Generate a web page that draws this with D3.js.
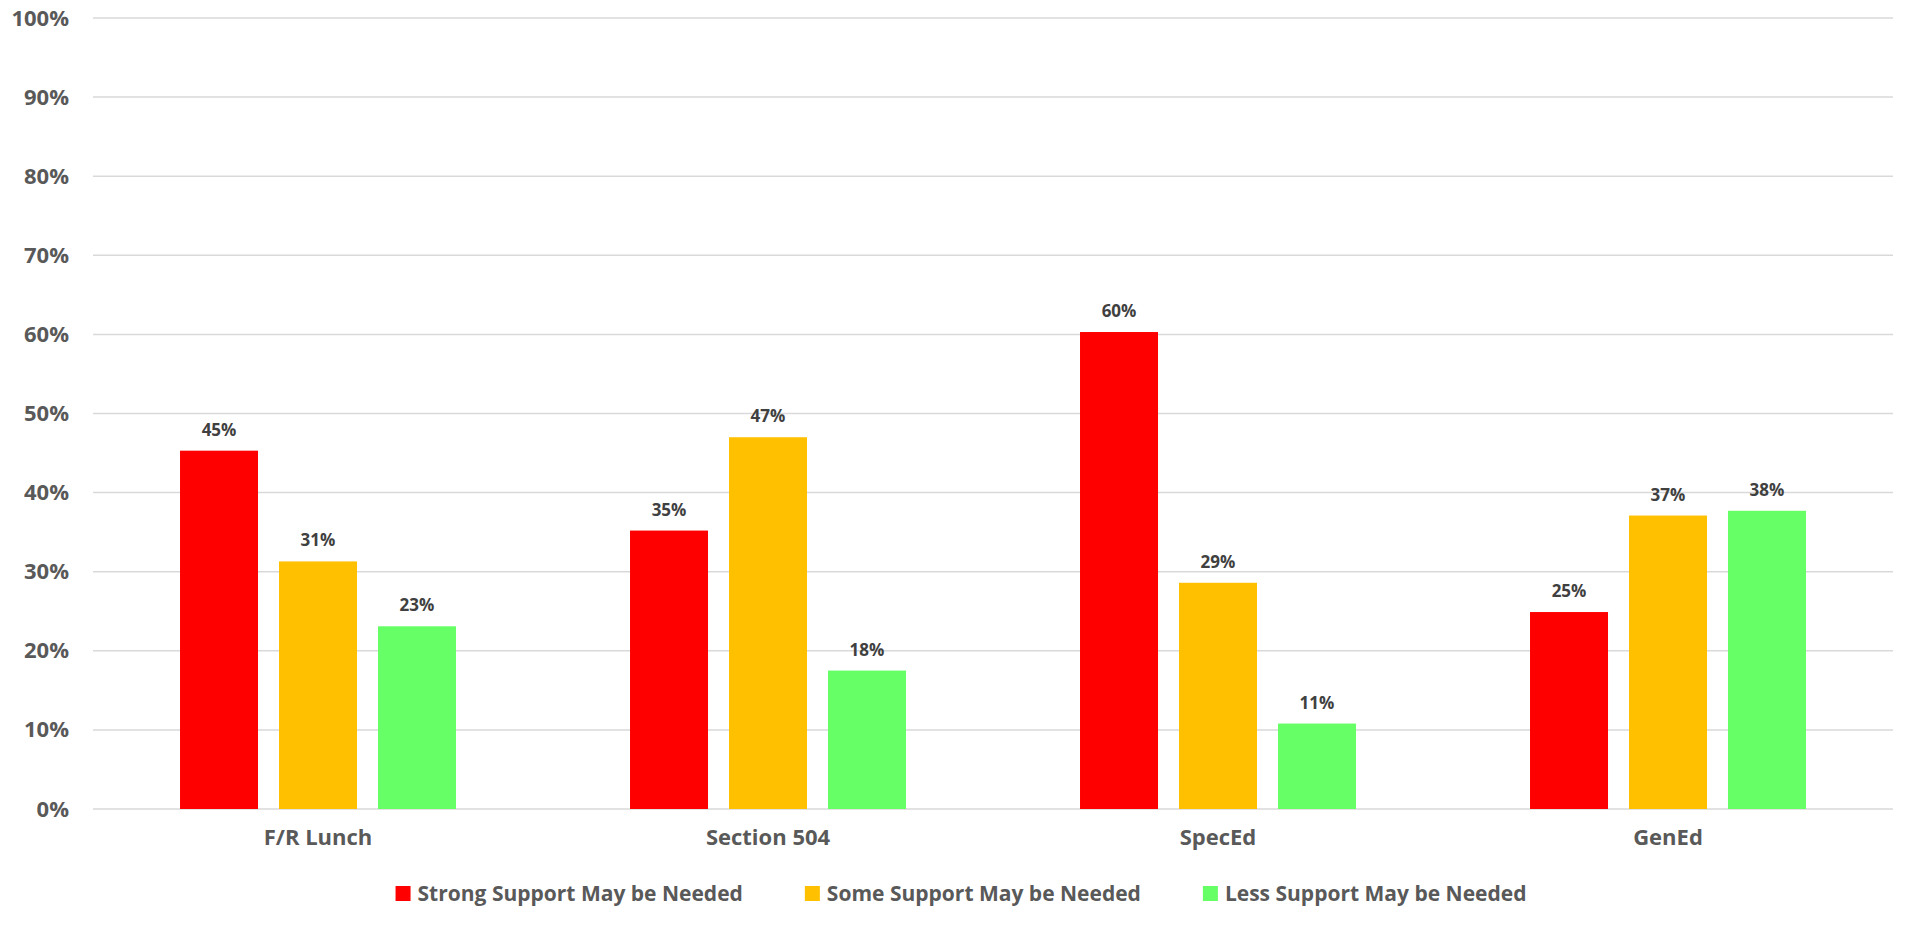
<!DOCTYPE html>
<html>
<head>
<meta charset="utf-8">
<script src="https://cdn.jsdelivr.net/npm/d3@7"></script>
<style>
  body { margin: 0; background: #fff; }
  text { font-family: "Open Sans", sans-serif; font-weight: bold; }
</style>
</head>
<body>
<div id="wrapper"></div>
<script>
const categories = ["F/R Lunch", "Section 504", "SpecEd", "GenEd"]
const seriesNames = ["Strong Support May be Needed", "Some Support May be Needed", "Less Support May be Needed"]
const seriesColors = ["#ff0000", "#ffc000", "#66ff66"]
const strongValues = [45.3, 35.2, 60.3, 24.9]
const someValues = [31.3, 47.0, 28.6, 37.1]
const lessValues = [23.1, 17.5, 10.8, 37.7]
const yTicks = [0, 10, 20, 30, 40, 50, 60, 70, 80, 90, 100]

function drawChart() {
  const seriesValues = [strongValues, someValues, lessValues]
  const dataset = categories.map((c, i) => ({
    category: c,
    values: seriesNames.map((s, j) => ({ series: s, idx: j, value: seriesValues[j][i] }))
  }))

  let dimensions = {
    width: 1907,
    height: 925,
    margin: { top: 18, right: 14, bottom: 116, left: 93 },
  }
  dimensions.boundedWidth = dimensions.width - dimensions.margin.left - dimensions.margin.right
  dimensions.boundedHeight = dimensions.height - dimensions.margin.top - dimensions.margin.bottom

  const wrapper = d3.select("#wrapper")
    .append("svg")
      .attr("width", dimensions.width)
      .attr("height", dimensions.height)

  const bounds = wrapper.append("g")
    .attr("transform", `translate(${dimensions.margin.left},${dimensions.margin.top})`)

  const yScaler = d3.scaleLinear()
    .domain([0, 100])
    .range([dimensions.boundedHeight, 0])

  const x0 = d3.scaleBand()
    .domain(categories)
    .range([0, dimensions.boundedWidth])
    .padding(0)

  const x1 = d3.scaleBand()
    .domain(seriesNames)
    .range([0, x0.bandwidth()])
    .paddingInner(0.212)
    .paddingOuter(0.879)

  // gridlines
  bounds.append("g")
    .selectAll("line")
    .data(yTicks)
    .join("line")
      .attr("x1", 0)
      .attr("x2", dimensions.boundedWidth)
      .attr("y1", d => yScaler(d))
      .attr("y2", d => yScaler(d))
      .attr("stroke", "#d9d9d9")
      .attr("stroke-width", 1.5)

  // y axis labels
  const yAxisGen = d3.axisLeft(yScaler)
    .tickValues(yTicks)
    .tickFormat(d => d + "%")
    .tickSize(0)
    .tickPadding(24)
  const yAxis = bounds.append("g").call(yAxisGen)
  yAxis.select(".domain").remove()
  yAxis.selectAll("text")
    .attr("font-size", "22px")
    .attr("fill", "#595959")
    .style("font-family", "'Open Sans', sans-serif")
    .style("font-weight", "bold")

  // bars
  const groups = bounds.append("g")
    .selectAll("g")
    .data(dataset)
    .join("g")
      .attr("transform", d => `translate(${x0(d.category)},0)`)

  groups.selectAll("rect")
    .data(d => d.values)
    .join("rect")
      .attr("x", d => x1(d.series))
      .attr("y", d => yScaler(d.value))
      .attr("width", x1.bandwidth())
      .attr("height", d => dimensions.boundedHeight - yScaler(d.value))
      .attr("fill", d => seriesColors[d.idx])

  groups.selectAll("text")
    .data(d => d.values)
    .join("text")
      .attr("x", d => x1(d.series) + x1.bandwidth() / 2)
      .attr("y", d => yScaler(d.value) - 15)
      .attr("text-anchor", "middle")
      .attr("font-size", "17px")
      .attr("fill", "#404040")
      .text(d => Math.round(d.value) + "%")

  // x axis labels
  const xAxisGen = d3.axisBottom(x0).tickSize(0).tickPadding(20)
  const xAxis = bounds.append("g")
    .attr("transform", `translate(0,${dimensions.boundedHeight})`)
    .call(xAxisGen)
  xAxis.select(".domain").remove()
  xAxis.selectAll("text")
    .attr("font-size", "22px")
    .attr("fill", "#595959")
    .style("font-family", "'Open Sans', sans-serif")
    .style("font-weight", "bold")

  // legend
  const legend = wrapper.append("g")
  const items = legend.selectAll("g")
    .data(seriesNames)
    .join("g")
  items.append("rect")
    .attr("width", 15)
    .attr("height", 15)
    .attr("y", -15)
    .attr("fill", (d, i) => seriesColors[i])
  items.append("text")
    .attr("x", 22)
    .attr("y", 0)
    .attr("font-size", "21px")
    .attr("fill", "#595959")
    .text(d => d)

  let offset = 0
  const itemGap = 62
  items.each(function() {
    const w = 22 + d3.select(this).select("text").node().getComputedTextLength()
    d3.select(this).attr("transform", `translate(${offset},0)`)
    offset += w + itemGap
  })
  const legendWidth = offset - itemGap
  legend.attr("transform", `translate(${961 - legendWidth / 2},901)`)
}

drawChart()
</script>
</body>
</html>
